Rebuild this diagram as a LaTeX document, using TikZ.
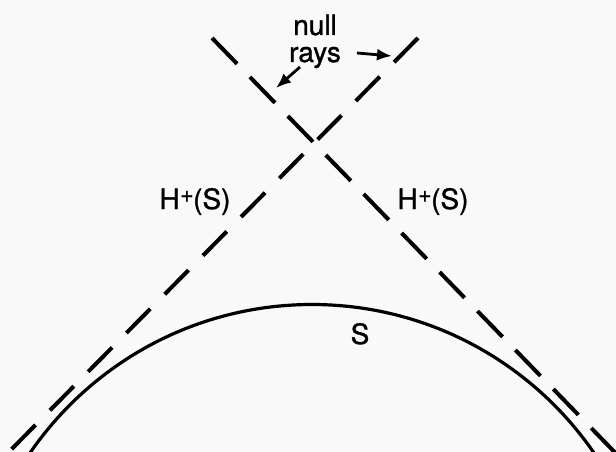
\documentclass[tikz,border=0pt]{standalone}
\usepackage{fontspec}
\setmainfont{TeX Gyre Heros}
\newfontfamily\lblfont{TeX Gyre Heros}[FakeBold=1.2]
\usetikzlibrary{arrows.meta}
\newcommand{\hplus}{H\kern0.5pt\raisebox{7pt}{\fontsize{23}{23}\selectfont +}\kern-0.5pt(S)}
\begin{document}
\begin{tikzpicture}[x=1pt,y=-1pt,
  ray/.style={line width=4pt, dash pattern=on 36pt off 18.4pt},
  surf/.style={line width=3.2pt},
  lbl/.style={font=\lblfont\fontsize{28}{32}\selectfont, inner sep=0pt, anchor=base},
  pointer/.style={line width=2.8pt, -{Latex[length=15pt,width=12pt]}}]
\fill[gray!5] (0,0) rectangle (616,452);
\useasboundingbox (0,0) rectangle (616,452);
\begin{scope}
  \clip (0,0) rectangle (616,452);
  \coordinate (a1) at (212,38);
  \coordinate (b1) at (632,470);
  \coordinate (a2) at (418,38);
  \coordinate (b2) at (-9,470);
  \draw[ray] (a1) -- (b1);
  \draw[ray, dash pattern=on 34pt off 20.4pt] (a2) -- (b2);
  \coordinate (c) at (312,646.5);
  \draw[surf] (c) circle[radius=342pt];
\end{scope}
\node[lbl] (null) at (315,35) {null};
\node[lbl] (rays) at (315,62) {rays};
\node[lbl] (hl) at (195,209) {\hplus};
\node[lbl] (hr) at (433,209) {\hplus};
\node[lbl] (s) at (360,344) {S};
\coordinate (p1) at (300,67);
\coordinate (q1) at (276,88);
\draw[pointer] (p1) -- (q1);
\coordinate (p2) at (357,53);
\coordinate (q2) at (392,56);
\draw[pointer] (p2) -- (q2);
\end{tikzpicture}
\end{document}
